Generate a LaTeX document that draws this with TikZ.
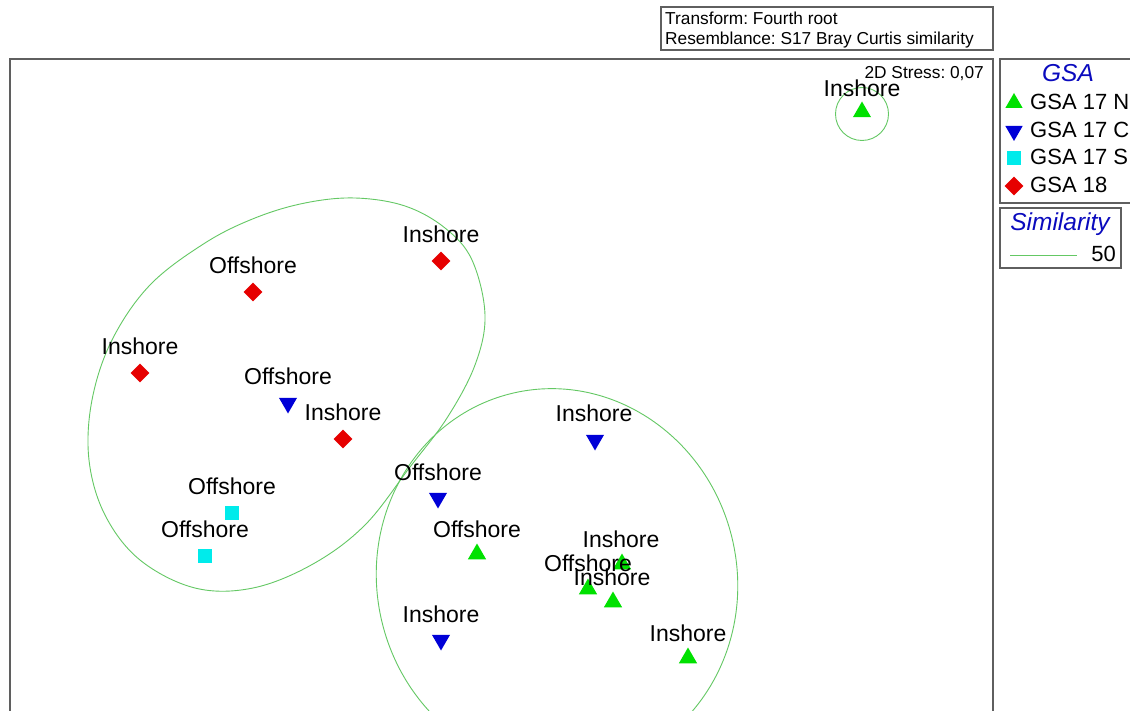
\documentclass[tikz,border=0pt]{standalone}
\usepackage{fontspec}
\setmainfont{Liberation Sans}
\usetikzlibrary{shapes.geometric}
\frenchspacing
\definecolor{ptgreen}{RGB}{0,225,0}
\definecolor{ptblue}{RGB}{0,0,215}
\definecolor{ptcyan}{RGB}{0,235,235}
\definecolor{ptred}{RGB}{230,0,0}
\definecolor{hull}{RGB}{100,200,100}
\definecolor{frame}{RGB}{95,95,95}
\definecolor{ttl}{RGB}{10,10,190}
\tikzset{
  up/.style={regular polygon,regular polygon sides=3,fill=ptgreen,draw=none,inner sep=0pt,minimum size=21pt},
  dn/.style={regular polygon,regular polygon sides=3,shape border rotate=180,fill=ptblue,draw=none,inner sep=0pt,minimum size=21pt},
  sq/.style={rectangle,fill=ptcyan,draw=none,inner sep=0pt,minimum size=14pt},
  dm/.style={diamond,aspect=1,fill=ptred,draw=none,inner sep=0pt,minimum size=19pt},
  lbl/.style={inner sep=0pt,font=\fontsize{23}{27}\selectfont},
  small/.style={inner sep=0pt,font=\fontsize{17.3}{20}\selectfont},
  leg/.style={inner sep=0pt,anchor=west,font=\fontsize{22}{26}\selectfont},
  legttl/.style={inner sep=0pt,text=ttl,font=\fontsize{24.5}{28}\selectfont\itshape},
  box/.style={draw=frame,line width=1.3pt},
  hullline/.style={draw=hull,line width=0.9pt}
}
\begin{document}
\begin{tikzpicture}[x=1pt,y=-1pt]
\useasboundingbox (0,0) rectangle (1130,711);
\clip (0,0) rectangle (1130,711);
\fill[white] (0,0) rectangle (1130,711);
% frames
\draw[box] (10,59) rectangle (993,730);
\draw[box] (661,7) rectangle (993,50);
\draw[box] (1000,59) rectangle (1140,203);
\draw[box] (1000,208) rectangle (1121,268);
% header text
\node[small,anchor=west] (t1) at (665,18) {Transform: Fourth root};
\node[small,anchor=west] (t2) at (665,40) {Resemblance: S17 Bray Curtis similarity};
\node[small,anchor=east] (stress) at (984,74) {2D Stress: 0,07};
% hulls
\draw[hullline] plot[smooth cycle,tension=0.6] coordinates {(355,198) (405,206) (445,228) (472,260) (485,315) (475,365) (447,418) (410,467) (365,525) (313,564) (253,588) (195,588) (140,560) (105,515) (89,460) (92,400) (112,340) (150,285) (205,243) (255,218) (305,203)};
\coordinate (h2) at (557,580);
\draw[hullline,rotate around={14:(h2)}] (h2) ellipse [x radius=180, y radius=192];
\draw[hullline] (862,114) circle (26.5);
% markers
\node[up] (n1) at (862,112) {};
\node[dm] (r1) at (441,261) {};
\node[dm] (r2) at (253,292) {};
\node[dm] (r3) at (140,373) {};
\node[dm] (r4) at (343,439) {};
\node[dn] (b1) at (288,403) {};
\node[dn] (b2) at (595,440) {};
\node[dn] (b3) at (438,498) {};
\node[dn] (b4) at (441,640) {};
\node[sq] (c1) at (232,513) {};
\node[sq] (c2) at (205,556) {};
\node[up] (g1) at (477,554) {};
\node[up] (g2) at (622,564) {};
\node[up] (g3) at (588,589) {};
\node[up] (g4) at (613,602) {};
\node[up] (g5) at (688,658) {};
% labels
\node[lbl] (ln1) at (862,88) {Inshore};
\node[lbl] (lr1) at (441,234) {Inshore};
\node[lbl] (lr2) at (253,265) {Offshore};
\node[lbl] (lr3) at (140,346) {Inshore};
\node[lbl] (lr4) at (343,412) {Inshore};
\node[lbl] (lb1) at (288,376) {Offshore};
\node[lbl] (lb2) at (594,413) {Inshore};
\node[lbl] (lb3) at (438,472) {Offshore};
\node[lbl] (lb4) at (441,614) {Inshore};
\node[lbl] (lc1) at (232,486) {Offshore};
\node[lbl] (lc2) at (205,529) {Offshore};
\node[lbl] (lg1) at (477,529) {Offshore};
\node[lbl] (lg2) at (621,539) {Inshore};
\node[lbl] (lg3) at (588,563) {Offshore};
\node[lbl] (lg4) at (612,577) {Inshore};
\node[lbl] (lg5) at (688,633) {Inshore};
% legend GSA
\node[legttl] (gsa) at (1068,73) {GSA};
\node[up,minimum size=20pt] (k1) at (1014,103) {};
\node[dn,minimum size=20pt] (k2) at (1014,131) {};
\node[sq,minimum size=14pt] (k3) at (1014,158) {};
\node[dm,minimum size=19pt] (k4) at (1014,186) {};
\node[leg] (e1) at (1030,102) {GSA 17 N};
\node[leg] (e2) at (1030,130) {GSA 17 C};
\node[leg] (e3) at (1030,157) {GSA 17 S};
\node[leg] (e4) at (1030,185) {GSA 18};
% legend similarity
\node[legttl] (sim) at (1060,224) {Similarity};
\coordinate (s1) at (1010,255);
\coordinate (s2) at (1077,255);
\draw[hullline] (s1) -- (s2);
\node[leg,anchor=east] (s50) at (1116,254) {50};
\end{tikzpicture}
\end{document}
